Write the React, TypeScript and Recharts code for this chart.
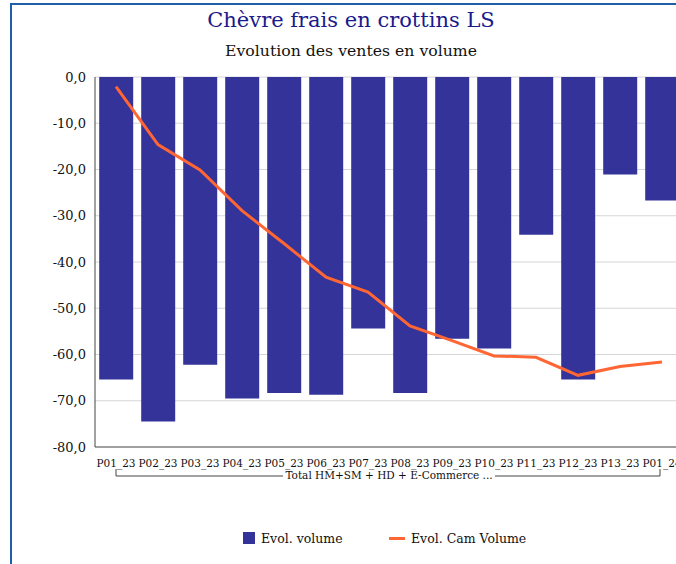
import React from "react";
import { ComposedChart, Bar, Line, XAxis, YAxis, CartesianGrid } from "recharts";

const categories = ["P01_23", "P02_23", "P03_23", "P04_23", "P05_23", "P06_23", "P07_23", "P08_23", "P09_23", "P10_23", "P11_23", "P12_23", "P13_23", "P01_24"];
const evolVolume = [-65.4, -74.5, -62.2, -69.5, -68.3, -68.7, -54.4, -68.3, -56.6, -58.7, -34.1, -65.4, -21.1, -26.7];
const evolCamVolume = [-2.1, -14.6, -20.1, -28.9, -36.0, -43.3, -46.5, -53.8, -57.0, -60.3, -60.6, -64.5, -62.6, -61.6];
const yTicks = [0, -10, -20, -30, -40, -50, -60, -70, -80];
const seriesNames = ["Evol. volume", "Evol. Cam Volume"];
const groupLabel = "Total HM+SM + HD + E-Commerce ...";
const title = "Chèvre frais en crottins LS";
const subtitle = "Evolution des ventes en volume";

const BAR_COLOR = "#333399";
const LINE_COLOR = "#FF6633";
const FONT = "'DejaVu Serif', serif";

const data = categories.map((c, i) => ({ cat: c, vol: evolVolume[i], cam: evolCamVolume[i] }));

const fmt = (v: number) => v.toFixed(1).replace(".", ",");

export default function App() {
  return (
    <div style={{ position: "fixed", left: 0, top: 0, width: 676, height: 564, overflow: "hidden", background: "#fff", fontFamily: FONT }}>
      <div style={{ position: "absolute", left: 10, top: 3, width: 720, height: 620, border: "2px solid #1f5fa8", boxSizing: "border-box" }} />
      <div style={{ position: "absolute", left: 0, top: 8, width: 702, textAlign: "center", fontSize: 21, color: "#1a1a8c", fontFamily: FONT }}>{title}</div>
      <div style={{ position: "absolute", left: 0, top: 41, width: 702, textAlign: "center", fontSize: 15.7, color: "#111", fontFamily: FONT }}>{subtitle}</div>
      <div style={{ position: "absolute", left: 0, top: 0 }}>
        <ComposedChart width={700} height={564} data={data} margin={{ top: 77, right: 17, left: 35, bottom: 87 }}>
          <CartesianGrid vertical={false} stroke="#d6d6d6" />
          <XAxis dataKey="cat" tickLine={false} axisLine={{ stroke: "#555" }} interval={0} height={30}
            tick={{ fontSize: 10.5, fill: "#111", fontFamily: FONT }} tickMargin={7} />
          <YAxis domain={[-80, 0]} ticks={yTicks} tickFormatter={fmt} width={60} tickLine={false}
            axisLine={{ stroke: "#444" }} tick={{ fontSize: 13, fill: "#111", fontFamily: FONT }} tickMargin={3} />
          <Bar dataKey="vol" name={seriesNames[0]} fill={BAR_COLOR} barCategoryGap={4} isAnimationActive={false} />
          <Line dataKey="cam" name={seriesNames[1]} stroke={LINE_COLOR} strokeWidth={3} dot={false} isAnimationActive={false} />
        </ComposedChart>
      </div>
      <svg style={{ position: "absolute", left: 0, top: 0 }} width={676} height={564}>
        <path d="M116,469 V476 H283 M495,476 H660 V469" fill="none" stroke="#444" strokeWidth={1} />
        <text x={389} y={479} textAnchor="middle" fontSize={10.5} fill="#111" fontFamily={FONT}>{groupLabel}</text>
      </svg>
      <div style={{ position: "absolute", left: 243, top: 532, width: 12, height: 12, background: BAR_COLOR }} />
      <div style={{ position: "absolute", left: 261, top: 531, fontSize: 12.5, color: "#111", fontFamily: FONT }}>{seriesNames[0]}</div>
      <div style={{ position: "absolute", left: 389, top: 537, width: 16, height: 3, background: LINE_COLOR }} />
      <div style={{ position: "absolute", left: 411, top: 531, fontSize: 12.5, color: "#111", fontFamily: FONT }}>{seriesNames[1]}</div>
    </div>
  );
}
